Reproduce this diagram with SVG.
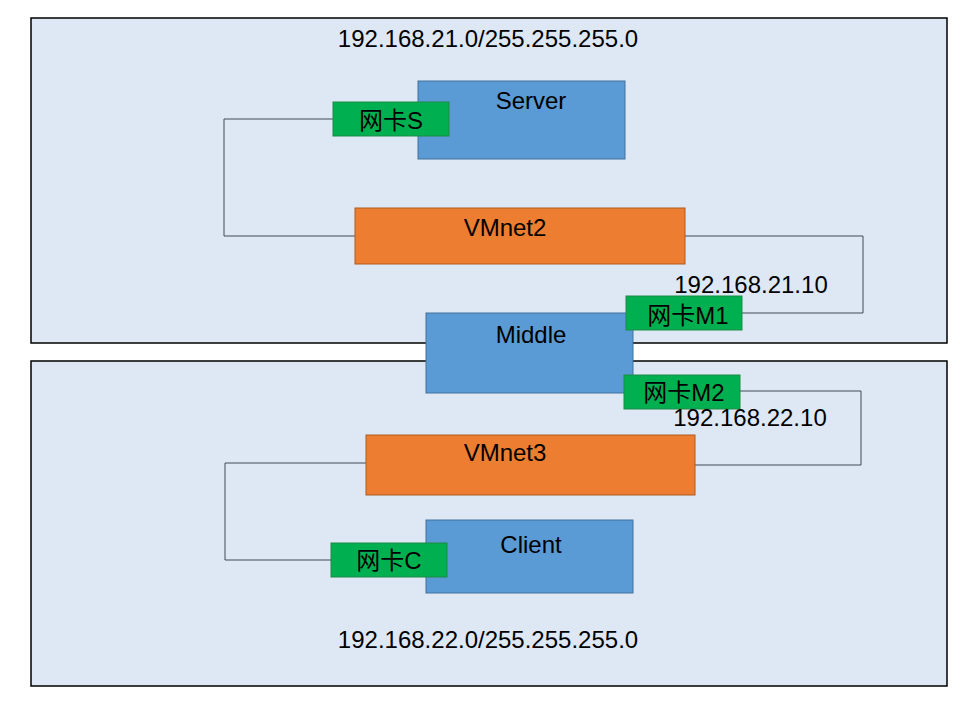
<svg xmlns="http://www.w3.org/2000/svg" width="960" height="720" viewBox="0 0 960 720">
<style>
.panel{fill:#dee8f4;stroke:#000;stroke-width:1.5}
.host{fill:#5b9bd5;stroke:#41719c;stroke-width:1}
.net{fill:#ed7d31;stroke:#ae5a21;stroke-width:1}
.nic{fill:#00b050;stroke:#1e8a46;stroke-width:1}
.wire{fill:none;stroke:#3e4a5c;stroke-width:1}
text{font-family:"Liberation Sans","Noto Sans CJK SC",Arial,sans-serif;font-size:24px;fill:#000}
.c{text-anchor:middle}
</style>
<rect width="960" height="720" fill="#fff"/>
<g id="subnet21">
<rect class="panel" x="31" y="18" width="916" height="325"/>
<text class="c" x="488" y="47">192.168.21.0/255.255.255.0</text>
</g>
<g id="subnet22">
<rect class="panel" x="31" y="361" width="916" height="325"/>
<text class="c" x="488" y="648">192.168.22.0/255.255.255.0</text>
</g>
<g id="connectors">
<polyline class="wire" points="333,119 224,119 224,236 355,236"/>
<polyline class="wire" points="685,236 863,236 863,313 742,313"/>
<polyline class="wire" points="740,391 861,391 861,465 695,465"/>
<polyline class="wire" points="366,463 225,463 225,560 331,560"/>
</g>
<g id="server">
<rect class="host" x="418" y="81" width="207" height="78"/>
<text class="c" x="531" y="109">Server</text>
</g>
<g id="nicS">
<rect class="nic" x="333" y="102" width="116" height="34"/>
<text class="c" x="391" y="129">网卡S</text>
</g>
<g id="vmnet2">
<rect class="net" x="355" y="208" width="330" height="56"/>
<text class="c" x="505" y="236">VMnet2</text>
</g>
<g id="ip21">
<text class="c" x="751" y="293">192.168.21.10</text>
</g>
<g id="middle">
<rect class="host" x="426" y="313" width="207" height="80"/>
<text class="c" x="531" y="343">Middle</text>
</g>
<g id="nicM1">
<rect class="nic" x="626" y="296" width="116" height="34"/>
<text class="c" x="688" y="324">网卡M1</text>
</g>
<g id="nicM2">
<rect class="nic" x="624" y="375" width="116" height="34"/>
<text class="c" x="684" y="401">网卡M2</text>
</g>
<g id="ip22">
<text class="c" x="750" y="426">192.168.22.10</text>
</g>
<g id="vmnet3">
<rect class="net" x="366" y="435" width="329" height="60"/>
<text class="c" x="505" y="461">VMnet3</text>
</g>
<g id="client">
<rect class="host" x="426" y="520" width="207" height="73"/>
<text class="c" x="531" y="553">Client</text>
</g>
<g id="nicC">
<rect class="nic" x="331" y="543" width="116" height="34"/>
<text class="c" x="389" y="569">网卡C</text>
</g>
</svg>
